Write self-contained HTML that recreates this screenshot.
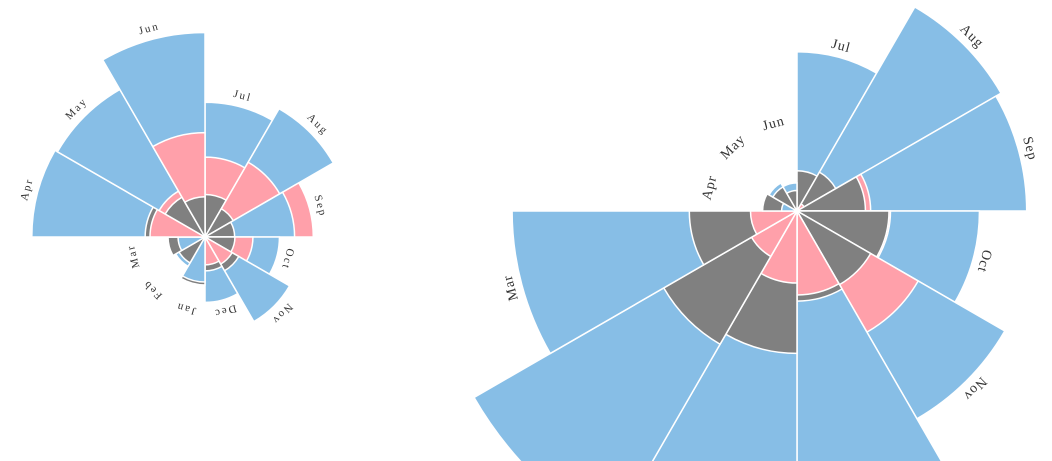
<!DOCTYPE html>
<html><head><meta charset="utf-8"><style>
html,body{margin:0;padding:0;background:#fff;width:1052px;height:461px;overflow:hidden;}
svg{display:block;overflow:hidden;}
text{font-family:"Liberation Serif",serif;fill:#333;}
</style></head><body>
<svg id="chart" width="1052" height="461" viewBox="0 0 1052 461">
<defs><clipPath id="frame"><rect x="0" y="0" width="1052" height="461"/></clipPath></defs>
<g id="root" clip-path="url(#frame)"></g>
</svg>
<script>
const months = ["Jul","Aug","Sep","Oct","Nov","Dec","Jan","Feb","Mar","Apr","May","Jun"];
// Left rose: Apr 1855 – Mar 1856 (ordered Jul..Jun)
const leftDisease = [107.5,129.9,47.5,32.8,56.4,25.3,12,6.8,4.3,177.5,171.8,247.6];
const leftWounds  = [37.7,44.1,69.4,13.6,5.8,4.6,0,0,0,17.9,16.6,64.5];
const leftOther   = [10.7,6.3,5.2,5.3,9,6.8,13.6,5.3,8.1,21.2,12.5,9.6];
// Right rose: Apr 1854 – Mar 1855 (ordered Jul..Jun)
const rightDisease = [150,328.5,312.2,197,340.6,631.5,1022.8,822.8,480.3,1.4,6.2,4.7];
const rightWounds  = [0,0.4,32.1,51.7,115.8,41.7,30.7,16.3,12.8,0,0,0];
const rightOther   = [9.6,11.9,27.7,50.1,42.8,48,120,140.1,68.6,7.0,4.6,2.5];

const NS="http://www.w3.org/2000/svg";
const root=document.getElementById('root');
const K=13;
function rScale(v){return K*Math.sqrt(v);}
const colors={disease:"#87bee6",wounds:"#ffa0aa",other:"#808080"};

function wedge(cx,cy,r,a0,a1){
  const p=(a,rr)=>[cx+rr*Math.sin(a),cy-rr*Math.cos(a)];
  const [x0,y0]=p(a0,r),[x1,y1]=p(a1,r);
  return `M${cx},${cy}L${x0},${y0}A${r},${r} 0 0 1 ${x1},${y1}Z`;
}

function rose(name,cx,cy,dis,wou,oth,minR,fs,ls){
  const g=document.createElementNS(NS,'g');
  
  
  root.appendChild(g);
  months.forEach((m,i)=>{
    const a0=i*Math.PI/6,a1=(i+1)*Math.PI/6;
    const items=[["disease",dis[i]],["wounds",wou[i]],["other",oth[i]]].sort((a,b)=>b[1]-a[1]);
    items.forEach(([k,v])=>{
      if(v<=0)return;
      const path=document.createElementNS(NS,'path');
      path.setAttribute('d',wedge(cx,cy,rScale(v),a0,a1));
      path.setAttribute('fill',colors[k]);
      path.setAttribute('stroke','#fff');
      path.setAttribute('stroke-width','1.5');
      
      
      g.appendChild(path);
    });
    const outer=rScale(Math.max(dis[i],wou[i],oth[i]));
    const R=Math.max(outer+11,minR);
    const am=(a0+a1)/2;
    const x=cx+R*Math.sin(am),y=cy-R*Math.cos(am);
    const t=document.createElementNS(NS,'text');
    t.setAttribute('x',x);t.setAttribute('y',y);
    t.setAttribute('text-anchor','middle');
    t.setAttribute('dominant-baseline','central');
    t.setAttribute('font-size',fs);
    t.setAttribute('letter-spacing',ls);
    t.setAttribute('transform',`rotate(${am*180/Math.PI},${x},${y})`);
    t.textContent=m;
    
    
    g.appendChild(t);
  });
}
rose('rose-1855-1856',205,237,leftDisease,leftWounds,leftOther,74,11,2);
rose('rose-1854-1855',797,211,rightDisease,rightWounds,rightOther,90,14,1);
</script>
</body></html>
